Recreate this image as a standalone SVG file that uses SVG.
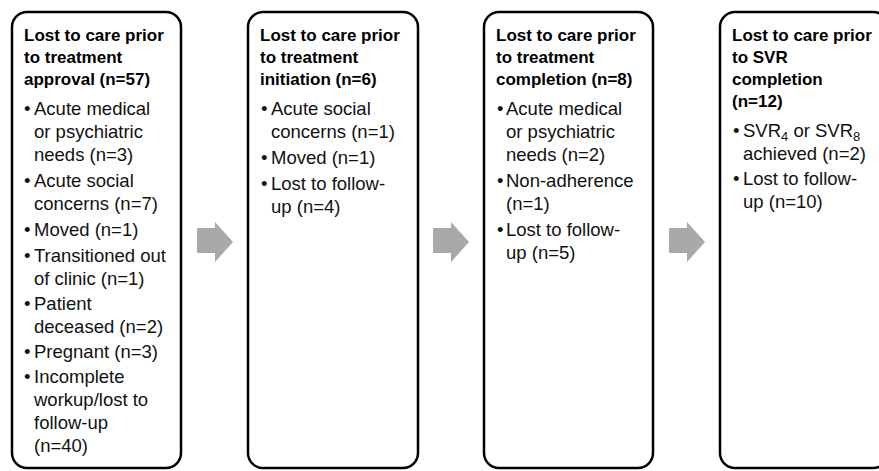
<svg xmlns="http://www.w3.org/2000/svg" width="879" height="471" viewBox="0 0 879 471">
<style>
.box{fill:#fff;stroke:#000;stroke-width:2.5}
.t{font-family:"Liberation Sans",Arial,sans-serif;font-size:17px;font-weight:bold;fill:#000}
.b{font-family:"Liberation Sans",Arial,sans-serif;font-size:18.5px;fill:#111}
.arr{fill:#a9a9a9}
</style>
<defs>
<path id="arrow" d="M0,6 H18 V0 L36,20 L18,40 V31 H0 Z"/>
</defs>
<rect width="879" height="471" fill="#fff"/>
<g id="connectors">
<use href="#arrow" class="arr" x="197" y="222"/>
<use href="#arrow" class="arr" x="433" y="222"/>
<use href="#arrow" class="arr" x="669" y="222"/>
</g>
<g id="node1">
<rect class="box" x="12" y="12" width="169" height="456" rx="15"/>
<text class="t" x="24" y="41">Lost to care prior</text>
<text class="t" x="24" y="63">to treatment</text>
<text class="t" x="24" y="85">approval (n=57)</text>
<g class="b">
<text x="24" y="115">•</text><text x="34" y="115">Acute medical</text>
<text x="34" y="138">or psychiatric</text>
<text x="34" y="161">needs (n=3)</text>
<text x="24" y="187">•</text><text x="34" y="187">Acute social</text>
<text x="34" y="210">concerns (n=7)</text>
<text x="24" y="236">•</text><text x="34" y="236">Moved (n=1)</text>
<text x="24" y="262">•</text><text x="34" y="262">Transitioned out</text>
<text x="34" y="285">of clinic (n=1)</text>
<text x="24" y="310">•</text><text x="34" y="310">Patient</text>
<text x="34" y="333">deceased (n=2)</text>
<text x="24" y="358">•</text><text x="34" y="358">Pregnant (n=3)</text>
<text x="24" y="383">•</text><text x="34" y="383">Incomplete</text>
<text x="34" y="406">workup/lost to</text>
<text x="34" y="429">follow-up</text>
<text x="34" y="452">(n=40)</text>
</g>
</g>
<g id="node2">
<rect class="box" x="248" y="12" width="170" height="456" rx="15"/>
<text class="t" x="260" y="41">Lost to care prior</text>
<text class="t" x="260" y="63">to treatment</text>
<text class="t" x="260" y="85">initiation (n=6)</text>
<g class="b">
<text x="261" y="115">•</text><text x="271" y="115">Acute social</text>
<text x="271" y="138">concerns (n=1)</text>
<text x="261" y="164">•</text><text x="271" y="164">Moved (n=1)</text>
<text x="261" y="190">•</text><text x="271" y="190">Lost to follow-</text>
<text x="271" y="213">up (n=4)</text>
</g>
</g>
<g id="node3">
<rect class="box" x="484" y="12" width="169" height="456" rx="15"/>
<text class="t" x="496" y="41">Lost to care prior</text>
<text class="t" x="496" y="63">to treatment</text>
<text class="t" x="496" y="85">completion (n=8)</text>
<g class="b">
<text x="497" y="115">•</text><text x="506" y="115">Acute medical</text>
<text x="506" y="138">or psychiatric</text>
<text x="506" y="161">needs (n=2)</text>
<text x="497" y="187">•</text><text x="506" y="187">Non-adherence</text>
<text x="506" y="210">(n=1)</text>
<text x="497" y="236">•</text><text x="506" y="236">Lost to follow-</text>
<text x="506" y="259">up (n=5)</text>
</g>
</g>
<g id="node4">
<rect class="box" x="720" y="12" width="168" height="456" rx="15"/>
<text class="t" x="732" y="41">Lost to care prior</text>
<text class="t" x="732" y="63">to SVR</text>
<text class="t" x="732" y="85">completion</text>
<text class="t" x="732" y="107">(n=12)</text>
<g class="b">
<text x="733" y="137">•</text><text x="743" y="137">SVR<tspan font-size="13" dy="4">4</tspan><tspan dy="-4"> or SVR</tspan><tspan font-size="13" dy="4">8</tspan></text>
<text x="743" y="160">achieved (n=2)</text>
<text x="733" y="185">•</text><text x="743" y="185">Lost to follow-</text>
<text x="743" y="208">up (n=10)</text>
</g>
</g>
</svg>
